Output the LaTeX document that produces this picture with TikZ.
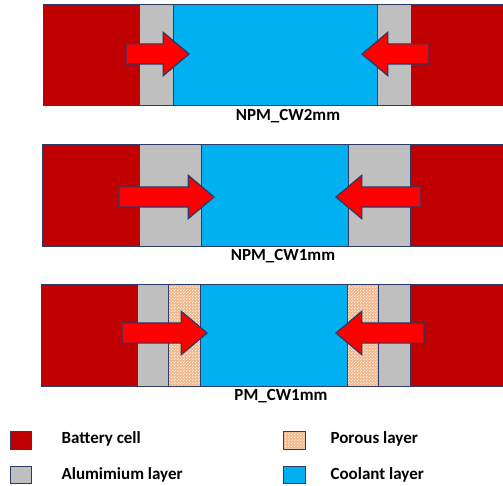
\documentclass[tikz,border=0pt]{standalone}
\usepackage{fontspec}
\setmainfont{Carlito}
\usetikzlibrary{shapes.arrows,patterns,positioning}
\definecolor{cellred}{HTML}{C00000}
\definecolor{alugray}{HTML}{BFBFBF}
\definecolor{coolblue}{HTML}{00B0F0}
\definecolor{edgeblue}{HTML}{2B3A67}
\definecolor{porousdot}{HTML}{E8802E}

% fine speckle for the porous layer
\pgfdeclarepatternformonly{porousspeckle}{\pgfpointorigin}{\pgfpoint{3pt}{3pt}}{\pgfpoint{3pt}{3pt}}{
    \pgfpathcircle{\pgfpoint{0.7pt}{0.8pt}}{0.6pt}
    \pgfpathcircle{\pgfpoint{2.2pt}{2.3pt}}{0.6pt}
    \pgfusepath{fill}
}

\begin{document}
\begin{tikzpicture}[x=1pt, y=-1pt,
    layer/.style={draw=edgeblue, line width=0.8pt},
    cell/.style={layer, fill=cellred},
    alu/.style={layer, fill=alugray},
    coolant/.style={layer, fill=coolblue},
    porous/.style={layer, preaction={fill=porousdot!55}, pattern=porousspeckle, pattern color=white},
    heatarrow/.style={single arrow, draw=edgeblue, line width=1.2pt, fill=red, minimum width=42pt,
        single arrow head extend=11.5pt, single arrow tip angle=80, inner xsep=0pt, inner ysep=9.5pt, anchor=tip},
    caption/.style={font=\fontsize{17}{20}\selectfont\bfseries},
    key/.style={font=\fontsize{17}{20}\selectfont\bfseries, anchor=west}
]
    \useasboundingbox (0,0) rectangle (503,486);

    % NPM_CW2mm
    \draw[cell] (43,4) rectangle (139,105);
    \draw[alu] (139,4) rectangle (173,105);
    \draw[coolant] (173,4) rectangle (377,105);
    \draw[alu] (377,4) rectangle (411,105);
    \draw[cell] (411,4) rectangle (504,105);
    \node[heatarrow, minimum height=63pt] (arrowA1) at (190,54) {};
    \node[heatarrow, minimum height=67pt, shape border rotate=180] (arrowA2) at (361,54) {};
    \node[caption] (capA) at (288,116) {NPM\_CW2mm};

    % NPM_CW1mm
    \draw[cell] (42,144) rectangle (139,246);
    \draw[alu] (139,144) rectangle (201,246);
    \draw[coolant] (201,144) rectangle (348,246);
    \draw[alu] (348,144) rectangle (410,246);
    \draw[cell] (410,144) rectangle (504,246);
    \node[heatarrow, minimum height=95pt] (arrowB1) at (215,197) {};
    \node[heatarrow, minimum height=85pt, shape border rotate=180] (arrowB2) at (335,197) {};
    \node[caption] (capB) at (283,256) {NPM\_CW1mm};

    % PM_CW1mm
    \draw[cell] (41,284) rectangle (137,386);
    \draw[alu] (137,284) rectangle (168,386);
    \draw[porous] (168,284) rectangle (200,386);
    \draw[coolant] (200,284) rectangle (347,386);
    \draw[porous] (347,284) rectangle (378,386);
    \draw[alu] (378,284) rectangle (410,386);
    \draw[cell] (410,284) rectangle (504,386);
    \node[heatarrow, minimum height=85pt] (arrowC1) at (208,333) {};
    \node[heatarrow, minimum height=88pt, shape border rotate=180] (arrowC2) at (335,333) {};
    \node[caption] (capC) at (281,396) {PM\_CW1mm};

    % legend
    \draw[cell] (10,431) rectangle (31,449);
    \draw[alu] (10,466) rectangle (31,483);
    \draw[porous] (283,431) rectangle (305,449);
    \draw[coolant] (283,466) rectangle (305,483);
    \node[key] (keyCell) at (58,439) {Battery cell};
    \node[key] (keyAlu) at (58,475) {Alumimium layer};
    \node[key] (keyPorous) at (327,439) {Porous layer};
    \node[key] (keyCool) at (327,475) {Coolant layer};
\end{tikzpicture}
\end{document}
